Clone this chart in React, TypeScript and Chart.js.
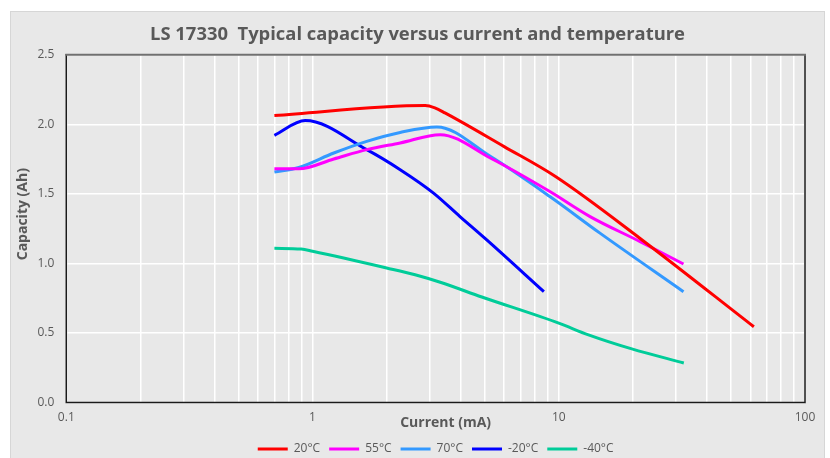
import React, { useEffect, useRef } from 'react';
import { Chart, registerables } from 'chart.js';

Chart.register(...registerables);

// ---- Data ----
const chartTitle = 'LS 17330  Typical capacity versus current and temperature';
const xAxisTitle = 'Current (mA)';
const yAxisTitle = 'Capacity (Ah)';

const seriesLabels = ['20°C', '55°C', '70°C', '-20°C', '-40°C'];
const seriesColors = ['#ff0000', '#ff00ff', '#3399ff', '#0000ff', '#00cc99'];

const x20 = [0.7, 2.87, 3.14, 3.45, 6, 9.7, 21.4, 62];
const y20 = [2.063, 2.135, 2.118, 2.082, 1.84, 1.625, 1.18, 0.545];

const x55 = [0.7, 0.88, 1.22, 1.66, 2.27, 3.3, 5.27, 9.2, 13.4, 21.4, 32.1];
const y55 = [1.681, 1.68, 1.751, 1.818, 1.866, 1.926, 1.758, 1.517, 1.337, 1.157, 0.996];

const x70 = [0.7, 0.88, 1.22, 1.66, 2.27, 3.2, 5.27, 9.2, 14.7, 32.1];
const y70 = [1.657, 1.69, 1.794, 1.878, 1.942, 1.981, 1.77, 1.481, 1.218, 0.797];

const xm20 = [0.7, 0.934, 1.66, 2.27, 3.1, 3.97, 5.1, 8.7];
const ym20 = [1.921, 2.027, 1.818, 1.674, 1.506, 1.337, 1.169, 0.797];

const xm40 = [0.7, 0.9, 1, 2, 2.61, 3.3, 4.87, 10, 13.2, 19.8, 32.2];
const ym40 = [1.109, 1.104, 1.088, 0.968, 0.919, 0.865, 0.759, 0.571, 0.487, 0.386, 0.285];

const seriesX = [x20, x55, x70, xm20, xm40];
const seriesY = [y20, y55, y70, ym20, ym40];

const xGridValues = [
  0.1, 0.2, 0.3, 0.4, 0.5, 0.6, 0.7, 0.8, 0.9,
  1, 2, 3, 4, 5, 6, 7, 8, 9,
  10, 20, 30, 40, 50, 60, 70, 80, 90, 100,
];
const xLabelledTicks = ['0.1', '1', '10', '100'];
const yMin = 0;
const yMax = 2.5;
const yStep = 0.5;

const TEXT_COLOR = '#595959';
const FONT = "'Open Sans', sans-serif";

const plotFrame = {
  id: 'plotFrame',
  beforeDatasetsDraw(chart: any) {
    const { ctx, chartArea: a } = chart;
    ctx.save();
    ctx.lineCap = 'square';
    ctx.strokeStyle = '#1a1a1a';
    ctx.lineWidth = 1.5;
    ctx.beginPath();
    ctx.moveTo(a.left, a.top);
    ctx.lineTo(a.left, a.bottom);
    ctx.lineTo(a.right, a.bottom);
    ctx.lineTo(a.right, a.top);
    ctx.stroke();
    ctx.strokeStyle = '#707070';
    ctx.lineWidth = 2;
    ctx.beginPath();
    ctx.moveTo(a.left, a.top);
    ctx.lineTo(a.right, a.top);
    ctx.stroke();
    ctx.restore();
  },
  afterDraw(chart: any) {
    const { ctx, chartArea: a } = chart;
    ctx.save();
    ctx.fillStyle = TEXT_COLOR;
    ctx.font = `bold 14px ${FONT}`;
    ctx.textAlign = 'center';
    ctx.textBaseline = 'middle';
    ctx.fillText(xAxisTitle, (a.left + a.right) / 2 + 10, a.bottom + 20.4);
    ctx.translate(12, (a.top + a.bottom) / 2 - 14.5);
    ctx.rotate(-Math.PI / 2);
    ctx.fillText(yAxisTitle, 0, 0);
    ctx.restore();
  },
};

export default function App() {
  const canvasRef = useRef<HTMLCanvasElement | null>(null);

  useEffect(() => {
    const canvas = canvasRef.current;
    if (!canvas) return;
    document.body.style.overflow = 'hidden';

    const datasets = seriesLabels.map((label, i) => ({
      label,
      data: seriesX[i].map((x, j) => ({ x, y: seriesY[i][j] })),
      borderColor: seriesColors[i],
      backgroundColor: seriesColors[i],
      borderWidth: 3,
      pointRadius: 0,
      pointHoverRadius: 0,
      fill: false,
      cubicInterpolationMode: 'monotone' as const,
    }));

    const chart = new Chart(canvas, {
      type: 'line',
      data: { datasets },
      plugins: [plotFrame],
      options: {
        responsive: false,
        animation: false,
        devicePixelRatio: 1,
        layout: { padding: { left: 19, right: 19, top: 0, bottom: 0 } },
        plugins: {
          title: {
            display: true,
            text: chartTitle,
            color: TEXT_COLOR,
            font: { family: FONT, size: 18.4, weight: 'bold' },
            padding: { top: 11.3, bottom: 9.4 },
          },
          legend: {
            display: true,
            position: 'bottom',
            fullSize: false,
            labels: {
              boxWidth: 30,
              boxHeight: 0,
              padding: 9,
              color: TEXT_COLOR,
              font: { family: FONT, size: 12 },
            },
          },
          tooltip: { enabled: false },
        },
        scales: {
          x: {
            type: 'logarithmic',
            min: 0.1,
            max: 100,
            border: { display: false },
            grid: { color: '#ffffff', lineWidth: 1.5, drawTicks: false },
            afterBuildTicks: (scale: any) => {
              scale.ticks = xGridValues.map((v) => ({ value: v }));
            },
            afterFit: (scale: any) => {
              scale.height = 31.4;
            },
            ticks: {
              autoSkip: false,
              maxRotation: 0,
              minRotation: 0,
              padding: 7.5,
              color: TEXT_COLOR,
              font: { family: FONT, size: 12 },
              callback: (value: any) => {
                const s = String(Number(value));
                return xLabelledTicks.includes(s) ? s : '';
              },
            },
          },
          y: {
            type: 'linear',
            min: yMin,
            max: yMax,
            border: { display: false },
            grid: { color: '#ffffff', lineWidth: 1.5, drawTicks: false },
            afterFit: (scale: any) => {
              scale.width = 36.3;
            },
            ticks: {
              stepSize: yStep,
              padding: 12,
              color: TEXT_COLOR,
              font: { family: FONT, size: 12 },
              callback: (value: any) => Number(value).toFixed(1),
            },
          },
        },
      },
    });

    return () => chart.destroy();
  }, []);

  return (
    <div
      style={{
        position: 'absolute',
        left: 10,
        top: 11,
        width: 815,
        height: 447,
        background: '#e8e8e8',
        border: '1px solid #d6d6d6',
        borderBottom: 'none',
        boxSizing: 'border-box',
        overflow: 'hidden',
      }}
    >
      <canvas
        ref={canvasRef}
        width={813}
        height={453}
        style={{ position: 'absolute', left: 0, top: 0, display: 'block' }}
      />
    </div>
  );
}
